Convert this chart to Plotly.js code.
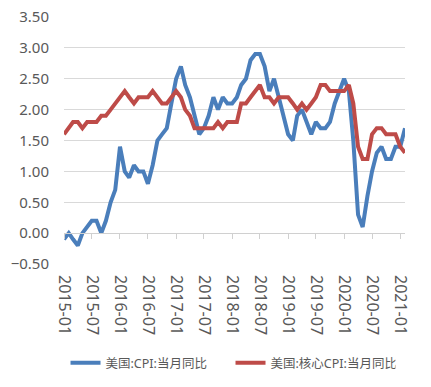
<!DOCTYPE html>
<html>
<head>
<meta charset="utf-8">
<script src="https://cdn.plot.ly/plotly-3.0.1.min.js"></script>
<style>html,body{margin:0;padding:0;background:#fff;}#chart{width:431px;height:387px;}</style>
</head>
<body>
<div id="chart"></div>
<script>
var months = [
"2015-01","2015-02","2015-03","2015-04","2015-05","2015-06","2015-07","2015-08","2015-09","2015-10","2015-11","2015-12",
"2016-01","2016-02","2016-03","2016-04","2016-05","2016-06","2016-07","2016-08","2016-09","2016-10","2016-11","2016-12",
"2017-01","2017-02","2017-03","2017-04","2017-05","2017-06","2017-07","2017-08","2017-09","2017-10","2017-11","2017-12",
"2018-01","2018-02","2018-03","2018-04","2018-05","2018-06","2018-07","2018-08","2018-09","2018-10","2018-11","2018-12",
"2019-01","2019-02","2019-03","2019-04","2019-05","2019-06","2019-07","2019-08","2019-09","2019-10","2019-11","2019-12",
"2020-01","2020-02","2020-03","2020-04","2020-05","2020-06","2020-07","2020-08","2020-09","2020-10","2020-11","2020-12",
"2021-01","2021-02"];
var cpi = [
-0.1,0.0,-0.1,-0.2,0.0,0.1,0.2,0.2,0.0,0.2,0.5,0.7,
1.4,1.0,0.9,1.1,1.0,1.0,0.8,1.1,1.5,1.6,1.7,2.1,
2.5,2.7,2.4,2.2,1.9,1.6,1.7,1.9,2.2,2.0,2.2,2.1,
2.1,2.2,2.4,2.5,2.8,2.9,2.9,2.7,2.3,2.5,2.2,1.9,
1.6,1.5,1.9,2.0,1.8,1.6,1.8,1.7,1.7,1.8,2.1,2.3,
2.5,2.3,1.5,0.3,0.1,0.6,1.0,1.3,1.4,1.2,1.2,1.4,
1.4,1.7];
var core = [
1.6,1.7,1.8,1.8,1.7,1.8,1.8,1.8,1.9,1.9,2.0,2.1,
2.2,2.3,2.2,2.1,2.2,2.2,2.2,2.3,2.2,2.1,2.1,2.2,
2.3,2.2,2.0,1.9,1.7,1.7,1.7,1.7,1.7,1.8,1.7,1.8,
1.8,1.8,2.1,2.1,2.2,2.3,2.4,2.2,2.2,2.1,2.2,2.2,
2.2,2.1,2.0,2.1,2.0,2.1,2.2,2.4,2.4,2.3,2.3,2.3,
2.3,2.4,2.1,1.4,1.2,1.2,1.6,1.7,1.7,1.6,1.6,1.6,
1.4,1.3];
var names = ["美国:CPI:当月同比","美国:核心CPI:当月同比"];

var txt = '#595959';
var fam = '"Noto Sans", "Noto Sans CJK SC", sans-serif';
var data = [
  {x: months, y: cpi, name: names[0], type: 'scatter', mode: 'lines',
   line: {color: '#4A7EBB', width: 4}},
  {x: months, y: core, name: names[1], type: 'scatter', mode: 'lines',
   line: {color: '#BE4B48', width: 4}},
  {x: [], y: [], xaxis: 'x2', showlegend: false, hoverinfo: 'skip', type: 'scatter', mode: 'lines'}
];
var layout = {
  width: 431, height: 387,
  margin: {l: 64, r: 26, t: 17, b: 123},
  paper_bgcolor: '#fff', plot_bgcolor: '#fff',
  font: {family: fam, color: txt},
  showlegend: true,
  legend: {orientation: 'h', xref: 'container', yref: 'container', x: 0.152, xanchor: 'left',
           y: 0.062, yanchor: 'middle', bgcolor: 'rgba(0,0,0,0)',
           font: {size: 12.5, color: txt, family: fam}, entrywidth: 120, entrywidthmode: 'pixels'},
  xaxis: {type: 'date', range: ['2015-01-01', '2021-02-01'], dtick: 'M6', tick0: '2015-01-01',
          tickformat: '%Y-%m', tickangle: 90, showgrid: false, zeroline: false, showline: false, automargin: false,
          ticks: '', ticklabelstandoff: 10, tickfont: {size: 16, color: txt, family: fam}},
  xaxis2: {type: 'date', overlaying: 'x', matches: 'x', anchor: 'free', position: 0.125, side: 'bottom',
           range: ['2015-01-01', '2021-02-01'], dtick: 'M6', tick0: '2015-01-01', automargin: false,
           showticklabels: false, showgrid: false, zeroline: false, showline: true, linecolor: '#D0D0D0', linewidth: 1,
           ticks: 'outside', ticklen: 5, tickcolor: '#D0D0D0', tickwidth: 1},
  yaxis: {range: [-0.5, 3.5], dtick: 0.5, tick0: -0.5, tickformat: '.2f', showgrid: true, automargin: false,
          gridcolor: '#D9D9D9', gridwidth: 1, zeroline: false, showline: false, ticks: '',
          ticklabelstandoff: 14, tickfont: {size: 15, color: txt, family: fam}}
};
Plotly.newPlot('chart', data, layout, {displayModeBar: false, staticPlot: true});
</script>
</body>
</html>
